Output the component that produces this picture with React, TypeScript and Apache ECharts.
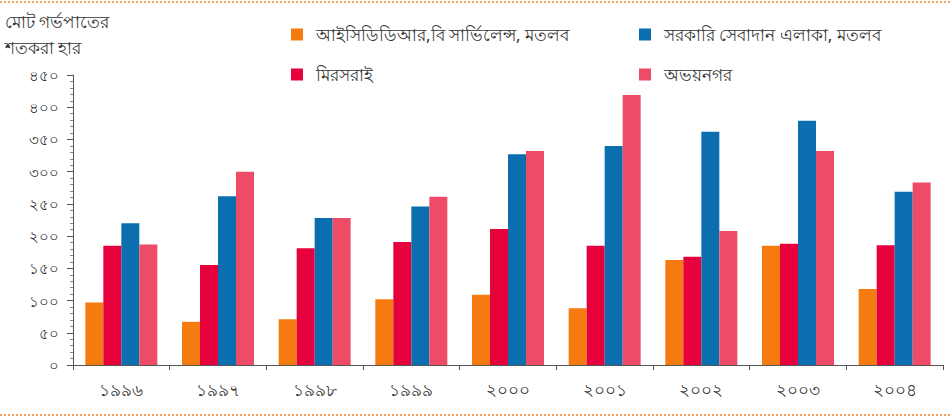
import React, { useEffect, useRef } from "react";
import * as echarts from "echarts";

const years = ["১৯৯৬", "১৯৯৭", "১৯৯৮", "১৯৯৯", "২০০০", "২০০১", "২০০২", "২০০৩", "২০০৪"];
const seriesNames = [
  "আইসিডিডিআর,বি সার্ভিলেন্স, মতলব",
  "মিরসরাই",
  "সরকারি সেবাদান এলাকা, মতলব",
  "অভয়নগর",
];
const icddrb = [97, 67, 71, 102, 109, 88, 163, 185, 118];
const mirsarai = [185, 155, 181, 191, 211, 185, 168, 188, 186];
const govt = [220, 262, 228, 246, 327, 340, 362, 379, 269];
const abhaynagar = [187, 300, 228, 261, 332, 419, 208, 332, 283];
const yTicks = [0, 50, 100, 150, 200, 250, 300, 350, 400, 450];
const colors = ["#F57A0F", "#E6003C", "#0B6FAF", "#EE4B67"];
const yTitle = "মোট গর্ভপাতের\nশতকরা হার";

const bnDigits = "০১২৩৪৫৬৭৮৯";
const toBn = (v: number | string) => String(v).replace(/[0-9]/g, (d) => bnDigits[+d]);

const FONT = "'Noto Sans', 'DejaVu Sans', sans-serif";

export default function App() {
  const ref = useRef<HTMLDivElement>(null);
  useEffect(() => {
    if (!ref.current) return;
    const chart = echarts.init(ref.current, undefined, { renderer: "svg" });
    const data = [icddrb, mirsarai, govt, abhaynagar];
    const legendCommon = {
      top: 21,
      orient: "vertical",
      itemWidth: 12,
      itemHeight: 12,
      itemGap: 23,
      icon: "rect",
      textStyle: { fontSize: 17, color: "#333", fontFamily: FONT, padding: [0, 0, 0, 8] },
    };
    chart.setOption({
      animation: false,
      backgroundColor: "#ffffff",
      textStyle: { fontFamily: FONT },
      grid: { left: 73, right: 9, top: 75, bottom: 53, containLabel: false },
      legend: [
        { ...legendCommon, left: 286, data: [seriesNames[0], seriesNames[1]] },
        { ...legendCommon, left: 634, data: [seriesNames[2], seriesNames[3]] },
      ],
      graphic: [
        {
          type: "line",
          shape: { x1: 0, y1: 2, x2: 952, y2: 2 },
          style: { stroke: "#F7A35C", lineWidth: 2, lineDash: [2, 2] },
        },
        {
          type: "line",
          shape: { x1: 0, y1: 415, x2: 952, y2: 415 },
          style: { stroke: "#F7A35C", lineWidth: 2, lineDash: [2, 2] },
        },
        {
          type: "text",
          left: 5,
          top: 8,
          style: { text: yTitle, fontSize: 17, lineHeight: 26, fill: "#333", fontFamily: FONT },
        },
      ],
      xAxis: {
        type: "category",
        data: years,
        axisLine: { lineStyle: { color: "#555", width: 1 } },
        axisTick: { show: true, length: 5, lineStyle: { color: "#555" } },
        axisLabel: { fontSize: 17, color: "#333", margin: 16, fontFamily: FONT },
      },
      yAxis: {
        type: "value",
        min: 0,
        max: 450,
        interval: 50,
        axisLine: { show: true, lineStyle: { color: "#555" } },
        axisTick: { show: true, length: 6, lineStyle: { color: "#555" } },
        minorTick: { show: true, splitNumber: 5, length: 3, lineStyle: { color: "#888" } },
        splitLine: { show: false },
        axisLabel: {
          fontSize: 15,
          color: "#333",
          margin: 14,
          fontFamily: FONT,
          formatter: (v: number) => (yTicks.includes(v) ? toBn(v) : ""),
        },
      },
      series: seriesNames.map((name, i) => ({
        name,
        type: "bar",
        data: data[i],
        barWidth: 18,
        barGap: "0%",
        itemStyle: { color: colors[i] },
      })),
    });
    return () => chart.dispose();
  }, []);
  return <div ref={ref} style={{ width: 952, height: 418, position: "absolute", left: 0, top: 0 }} />;
}
